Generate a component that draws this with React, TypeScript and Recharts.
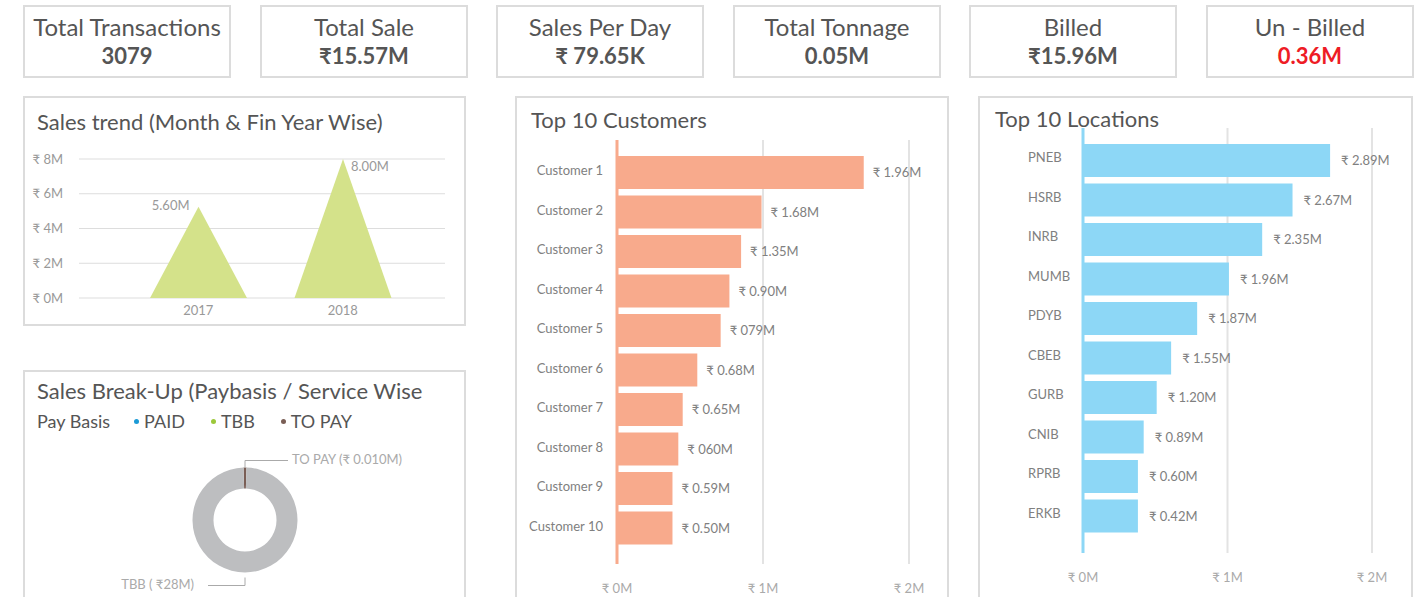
import React from 'react';
import {
  BarChart, Bar, XAxis, YAxis, CartesianGrid, LabelList, PieChart, Pie, Cell,
} from 'recharts';

// ---------- data ----------
const kpiTitles = ['Total Transactions', 'Total Sale', 'Sales Per Day', 'Total Tonnage', 'Billed', 'Un - Billed'];
const kpiValues = ['3079', '₹15.57M', '₹ 79.65K', '0.05M', '₹15.96M', '0.36M'];
const kpiColors = ['#555', '#555', '#555', '#555', '#555', '#ee1c25'];

const trendYears = ['2017', '2018'];
const trendValues = [5.25, 8.0];
const trendLabels = ['5.60M', '8.00M'];
const trendTicks = [0, 2, 4, 6, 8];

const customers = ['Customer 1', 'Customer 2', 'Customer 3', 'Customer 4', 'Customer 5', 'Customer 6', 'Customer 7', 'Customer 8', 'Customer 9', 'Customer 10'];
const customerValues = [1.69, 0.99, 0.85, 0.77, 0.71, 0.55, 0.45, 0.42, 0.38, 0.38];
const customerLabels = ['₹ 1.96M', '₹ 1.68M', '₹ 1.35M', '₹ 0.90M', '₹ 079M', '₹ 0.68M', '₹ 0.65M', '₹ 060M', '₹ 0.59M', '₹ 0.50M'];

const locations = ['PNEB', 'HSRB', 'INRB', 'MUMB', 'PDYB', 'CBEB', 'GURB', 'CNIB', 'RPRB', 'ERKB'];
const locationValues = [1.71, 1.45, 1.24, 1.01, 0.79, 0.61, 0.51, 0.42, 0.38, 0.38];
const locationLabels = ['₹ 2.89M', '₹ 2.67M', '₹ 2.35M', '₹ 1.96M', '₹ 1.87M', '₹ 1.55M', '₹ 1.20M', '₹ 0.89M', '₹ 0.60M', '₹ 0.42M'];

const hbarTicks = [0, 1, 2];

const payBasisNames = ['TO PAY', 'TBB'];
const payBasisValues = [0.25, 28];
const payBasisLabels = ['TO PAY (₹ 0.010M)', 'TBB ( ₹28M)'];
const legendNames = ['PAID', 'TBB', 'TO PAY'];
const legendColors = ['#1b9ad6', '#9cc83a', '#7a5e55'];

// ---------- tables ----------
const trendData = trendYears.map((year, i) => ({ year, value: trendValues[i], label: trendLabels[i] }));
const customerData = customers.map((name, i) => ({ name, value: customerValues[i], label: customerLabels[i] }));
const locationData = locations.map((name, i) => ({ name, value: locationValues[i], label: locationLabels[i] }));
const pieData = payBasisNames.map((name, i) => ({ name, value: payBasisValues[i], label: payBasisLabels[i] }));
const pieColors = ['#7a5e55', '#bdbec0'];

const BORDER = '2px solid #dcdcdc';
const TITLE = '#555';

const box = (left: number, top: number, width: number, height: number): React.CSSProperties => ({
  position: 'absolute', left, top, width, height, border: BORDER, boxSizing: 'border-box', background: '#fff',
});

const Triangle = (props: any) => {
  const { x, y, width, height, fill } = props;
  return <path d={`M${x},${y + height} L${x + width / 2},${y} L${x + width},${y + height} Z`} fill={fill} />;
};

const TrendLabel = (props: any) => {
  const { x, y, width, index, value } = props;
  const cx = x + width / 2;
  if (index === 0) {
    return <text x={cx - 9} y={y} textAnchor="end" dominantBaseline="middle" fill="#999" fontSize={13}>{value}</text>;
  }
  return <text x={cx + 8} y={y + 9} textAnchor="start" dominantBaseline="middle" fill="#999" fontSize={13}>{value}</text>;
};

const LocTick = (props: any) => {
  const { x, y, payload } = props;
  return <text x={x - 55} y={y - 2} textAnchor="start" dominantBaseline="middle" fill="#808080" fontSize={13}>{payload.value}</text>;
};

const PieLabel = (props: any) => {
  const { cx, cy, outerRadius, index } = props;
  const txt = pieData[index].label;
  if (index === 0) {
    const yy = cy - outerRadius - 7;
    return (
      <g>
        <polyline points={`${cx},${cy - outerRadius} ${cx},${yy} ${cx + 43},${yy}`} fill="none" stroke="#aaa" strokeWidth={1} />
        <text x={cx + 47} y={yy} textAnchor="start" dominantBaseline="middle" fill="#aaa" fontSize={13}>{txt}</text>
      </g>
    );
  }
  const yy = cy + outerRadius + 13;
  return (
    <g>
      <polyline points={`${cx},${cy + outerRadius + 5} ${cx},${yy} ${cx - 37},${yy}`} fill="none" stroke="#aaa" strokeWidth={1} />
      <text x={cx - 51} y={yy} textAnchor="end" dominantBaseline="middle" fill="#aaa" fontSize={13}>{txt}</text>
    </g>
  );
};

const kpiLefts = [23, 260, 496, 733, 969, 1206];

export default function App() {
  return (
    <div style={{ position: 'absolute', left: 0, top: 0, width: 1420, height: 597, overflow: 'hidden', background: '#fff', fontFamily: 'Lato, "Open Sans", sans-serif' }}>
      {/* KPI cards */}
      {kpiTitles.map((t, i) => (
        <div key={t} style={{ ...box(kpiLefts[i], 5, 208, 73), textAlign: 'center' }}>
          <div style={{ position: 'absolute', left: 0, right: 0, top: 6, fontSize: 24, lineHeight: '28px', color: TITLE }}>{t}</div>
          <div style={{ position: 'absolute', left: 0, right: 0, top: 36, fontSize: 22, lineHeight: '26px', fontWeight: 700, color: kpiColors[i] }}>{kpiValues[i]}</div>
        </div>
      ))}

      {/* Sales trend */}
      <div style={box(23, 96, 443, 230)}>
        <div style={{ position: 'absolute', left: 12, top: 11, fontSize: 22, lineHeight: '26px', color: TITLE, whiteSpace: 'nowrap' }}>Sales trend (Month &amp; Fin Year Wise)</div>
      </div>
      <div style={{ position: 'absolute', left: 23, top: 140 }}>
        <BarChart width={442} height={185} data={trendData} margin={{ top: 19, right: 20, bottom: 5, left: 10 }}>
          <CartesianGrid vertical={false} stroke="#dddddd" />
          <XAxis dataKey="year" axisLine={false} tickLine={false} padding={{ left: 47, right: 30 }} height={22} tick={{ fill: '#999', fontSize: 13 }} />
          <YAxis domain={[0, 8]} ticks={trendTicks} axisLine={false} tickLine={false} width={46} tickMargin={10} tick={{ fill: '#999', fontSize: 13 }} tickFormatter={(v: number) => `₹ ${v}M`} />
          <Bar dataKey="value" fill="#d4e28a" barSize={97} shape={<Triangle />} isAnimationActive={false}>
            <LabelList dataKey="label" content={<TrendLabel />} />
          </Bar>
        </BarChart>
      </div>

      {/* Sales Break-Up */}
      <div style={box(23, 370, 443, 240)}>
        <div style={{ position: 'absolute', left: 12, top: 6, fontSize: 22, lineHeight: '26px', color: TITLE, whiteSpace: 'nowrap' }}>Sales Break-Up (Paybasis / Service Wise</div>
        <div style={{ position: 'absolute', left: 12, top: 38, fontSize: 18, lineHeight: '22px', color: TITLE, whiteSpace: 'nowrap', display: 'flex' }}>
          <span style={{ marginRight: 24 }}>Pay Basis</span>
          {legendNames.map((n, i) => (
            <span key={n} style={{ marginRight: 26, display: 'inline-flex', alignItems: 'center' }}>
              <span style={{ display: 'inline-block', width: 5, height: 5, borderRadius: 3, background: legendColors[i], marginRight: 5 }} />
              {n}
            </span>
          ))}
        </div>
      </div>
      <div style={{ position: 'absolute', left: 23, top: 440 }}>
        <PieChart width={442} height={157} margin={{ top: 0, right: 0, bottom: 0, left: 0 }}>
          <Pie data={pieData} dataKey="value" nameKey="name" cx={222} cy={80} innerRadius={31.5} outerRadius={52.5}
            startAngle={91.6} endAngle={-268.4} stroke="none" label={PieLabel} labelLine={false} isAnimationActive={false}>
            {pieData.map((d, i) => <Cell key={d.name} fill={pieColors[i]} />)}
          </Pie>
        </PieChart>
      </div>

      {/* Top 10 Customers */}
      <div style={box(515, 96, 434, 520)}>
        <div style={{ position: 'absolute', left: 14, top: 9, fontSize: 22, lineHeight: '26px', color: TITLE, whiteSpace: 'nowrap' }}>Top 10 Customers</div>
      </div>
      <div style={{ position: 'absolute', left: 515, top: 130 }}>
        <BarChart layout="vertical" width={434} height={467} data={customerData} margin={{ top: 10, right: 40, bottom: 3, left: 2 }}>
          <CartesianGrid horizontal={false} stroke="#e3e3e3" strokeWidth={2} />
          <XAxis type="number" domain={[0, 2]} ticks={hbarTicks} axisLine={false} tickLine={false} height={30} tickMargin={14}
            tick={{ fill: '#aaa', fontSize: 13 }} tickFormatter={(v: number) => `₹ ${v}M`} />
          <YAxis type="category" dataKey="name" width={100} axisLine={{ stroke: '#f8aa8c', strokeWidth: 3 }} tickLine={false} tickMargin={8}
            padding={{ top: 13, bottom: 16 }} tick={{ fill: '#808080', fontSize: 13, dy: -2 }} />
          <Bar dataKey="value" fill="#f8aa8c" barSize={33} isAnimationActive={false}>
            <LabelList dataKey="label" position="right" offset={9} fill="#808080" fontSize={13} />
          </Bar>
        </BarChart>
      </div>

      {/* Top 10 Locations */}
      <div style={box(978, 96, 435, 520)}>
        <div style={{ position: 'absolute', left: 15, top: 8, fontSize: 22, lineHeight: '26px', color: TITLE, whiteSpace: 'nowrap' }}>Top 10 Locations</div>
      </div>
      <div style={{ position: 'absolute', left: 978, top: 118 }}>
        <BarChart layout="vertical" width={434} height={479} data={locationData} margin={{ top: 10, right: 40, bottom: 14, left: 2 }}>
          <CartesianGrid horizontal={false} stroke="#e3e3e3" strokeWidth={2} />
          <XAxis type="number" domain={[0, 2]} ticks={hbarTicks} axisLine={false} tickLine={false} height={30} tickMargin={14}
            tick={{ fill: '#aaa', fontSize: 13 }} tickFormatter={(v: number) => `₹ ${v}M`} />
          <YAxis type="category" dataKey="name" width={103} axisLine={{ stroke: '#8dd7f6', strokeWidth: 3 }} tickLine={false} tickSize={0} tickMargin={0}
            padding={{ top: 13, bottom: 17 }} tick={<LocTick />} />
          <Bar dataKey="value" fill="#8dd7f6" barSize={33} isAnimationActive={false}>
            <LabelList dataKey="label" position="right" offset={11} fill="#808080" fontSize={13} />
          </Bar>
        </BarChart>
      </div>
    </div>
  );
}
